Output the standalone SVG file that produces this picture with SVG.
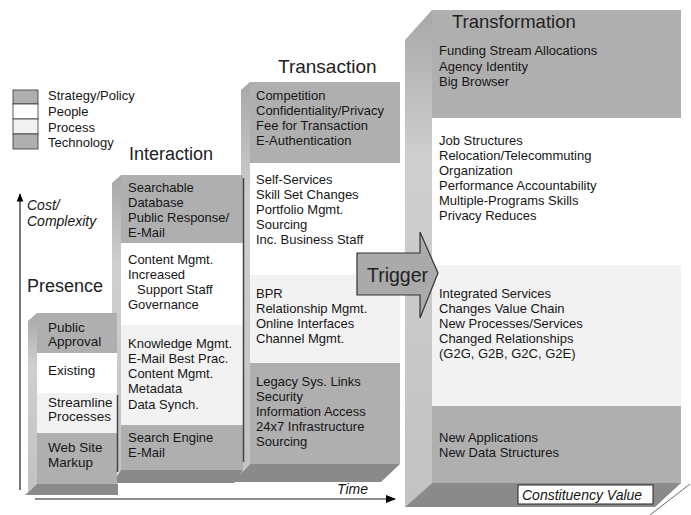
<svg xmlns="http://www.w3.org/2000/svg" width="691" height="515" viewBox="0 0 691 515">
<style>
.g{fill:#afafaf}
.w{fill:#ffffff}
.l{fill:#f2f2f2}
.bot{fill:#8a8a8a}
.t{font-family:"Liberation Sans",Arial,sans-serif;font-size:13px;fill:#161616}
.tp{font-family:"Liberation Sans",Arial,sans-serif;font-size:13.5px;fill:#161616}
.h{font-family:"Liberation Sans",Arial,sans-serif;fill:#222}
.it{font-family:"Liberation Sans",Arial,sans-serif;font-style:italic;font-size:14px;fill:#161616}
.edge{stroke:#444;stroke-width:1.5;fill:none}
</style>
<defs>
<linearGradient id="sideg" x1="0" y1="0" x2="0" y2="1">
<stop offset="0" stop-color="#a8a8a8"/>
<stop offset="0.3" stop-color="#cfcfcf"/>
<stop offset="1" stop-color="#c2c2c2"/>
</linearGradient>
<marker id="ah" viewBox="0 0 10 10" refX="9" refY="5" markerWidth="7" markerHeight="7" orient="auto">
<path d="M0,1 L10,5 L0,9 z" fill="#000"/>
</marker>
</defs>
<rect width="691" height="515" fill="#fff"/>

<g id="legend">
<rect x="13" y="90" width="25" height="14" class="g" stroke="#333" stroke-width="0.8"/>
<rect x="13" y="104" width="25" height="15" class="w" stroke="#333" stroke-width="0.8"/>
<rect x="13" y="119" width="25" height="15" class="l" stroke="#333" stroke-width="0.8"/>
<rect x="13" y="134" width="25" height="15" class="g" stroke="#333" stroke-width="0.8"/>
<text class="t" x="48" y="100">Strategy/Policy</text>
<text class="t" x="48" y="116">People</text>
<text class="t" x="48" y="132">Process</text>
<text class="t" x="48" y="147">Technology</text>
</g>

<g id="transformation">
<polygon points="405,40 432,10 432,483 405,507" fill="url(#sideg)"/>
<polygon points="432,483 681,483 655,507 405,507" class="bot"/>
<rect x="432" y="10" width="249" height="108" class="g"/>
<rect x="432" y="118" width="249" height="147" class="w"/>
<rect x="432" y="265" width="249" height="141" class="l"/>
<rect x="432" y="406" width="249" height="77" class="g"/>
<text class="h" x="452" y="28" font-size="18.5">Transformation</text>
<text class="t" x="439" y="55">Funding Stream Allocations</text>
<text class="t" x="439" y="71">Agency Identity</text>
<text class="t" x="439" y="86">Big Browser</text>
<text class="t" x="439" y="145">Job Structures</text>
<text class="t" x="439" y="160">Relocation/Telecommuting</text>
<text class="t" x="439" y="175">Organization</text>
<text class="t" x="439" y="190">Performance Accountability</text>
<text class="t" x="439" y="205">Multiple-Programs Skills</text>
<text class="t" x="439" y="220">Privacy Reduces</text>
<text class="t" x="439" y="298">Integrated Services</text>
<text class="t" x="439" y="313">Changes Value Chain</text>
<text class="t" x="439" y="328">New Processes/Services</text>
<text class="t" x="439" y="343">Changed Relationships</text>
<text class="t" x="439" y="358">(G2G, G2B, G2C, G2E)</text>
<text class="t" x="439" y="442">New Applications</text>
<text class="t" x="439" y="457">New Data Structures</text>
<rect x="518" y="485" width="135" height="19" fill="#fff" stroke="#222" stroke-width="1"/>
<text class="it" x="522" y="500">Constituency Value</text>
</g>

<g id="transaction">
<polygon points="241,90 250,82 250,464 241,472" fill="url(#sideg)"/>
<polygon points="250,464 400,464 381,482 232,482" class="bot"/>
<rect x="250" y="82" width="150" height="81" class="g"/>
<rect x="250" y="163" width="150" height="112" class="w"/>
<rect x="250" y="275" width="150" height="88" class="l"/>
<rect x="250" y="363" width="150" height="101" class="g"/>
<text class="h" x="278" y="73" font-size="19">Transaction</text>
<text class="t" x="256" y="100">Competition</text>
<text class="t" x="256" y="115">Confidentiality/Privacy</text>
<text class="t" x="256" y="130">Fee for Transaction</text>
<text class="t" x="256" y="145">E-Authentication</text>
<text class="t" x="256" y="184">Self-Services</text>
<text class="t" x="256" y="199">Skill Set Changes</text>
<text class="t" x="256" y="214">Portfolio Mgmt.</text>
<text class="t" x="256" y="229">Sourcing</text>
<text class="t" x="256" y="244">Inc. Business Staff</text>
<text class="t" x="256" y="298">BPR</text>
<text class="t" x="256" y="313">Relationship Mgmt.</text>
<text class="t" x="256" y="328">Online Interfaces</text>
<text class="t" x="256" y="343">Channel Mgmt.</text>
<text class="t" x="256" y="386">Legacy Sys. Links</text>
<text class="t" x="256" y="401">Security</text>
<text class="t" x="256" y="416">Information Access</text>
<text class="t" x="256" y="431">24x7 Infrastructure</text>
<text class="t" x="256" y="446">Sourcing</text>
</g>

<g id="interaction">
<polygon points="112,183 121,175 121,470 112,478" fill="url(#sideg)"/>
<polygon points="121,470 243,470 234,483 112,483" class="bot"/>
<rect x="121" y="175" width="122" height="68" class="g"/>
<rect x="121" y="243" width="122" height="82" class="w"/>
<rect x="121" y="325" width="122" height="100" class="l"/>
<rect x="121" y="425" width="122" height="45" class="g"/>
<line x1="243.5" y1="178" x2="243.5" y2="462" class="edge"/>
<text class="h" x="129" y="160" font-size="18">Interaction</text>
<text class="t" x="128" y="192">Searchable</text>
<text class="t" x="128" y="207">Database</text>
<text class="t" x="128" y="222">Public Response/</text>
<text class="t" x="128" y="237">E-Mail</text>
<text class="t" x="128" y="264">Content Mgmt.</text>
<text class="t" x="128" y="279">Increased</text>
<text class="t" x="137" y="294">Support Staff</text>
<text class="t" x="128" y="309">Governance</text>
<text class="t" x="128" y="348">Knowledge Mgmt.</text>
<text class="t" x="128" y="363">E-Mail Best Prac.</text>
<text class="t" x="128" y="378">Content Mgmt.</text>
<text class="t" x="128" y="393">Metadata</text>
<text class="t" x="128" y="409">Data Synch.</text>
<text class="t" x="128" y="442">Search Engine</text>
<text class="t" x="128" y="457">E-Mail</text>
</g>

<g id="presence">
<polygon points="28,321 37,313 37,484 28,492" fill="url(#sideg)"/>
<polygon points="37,484 118,484 118,495 25,495" class="bot"/>
<rect x="37" y="313" width="80" height="40" class="g"/>
<rect x="37" y="353" width="80" height="40" class="w"/>
<rect x="37" y="393" width="80" height="40" class="l"/>
<rect x="37" y="433" width="80" height="51" class="g"/>
<line x1="117.5" y1="395" x2="117.5" y2="472" class="edge"/>
<text class="h" x="27" y="292" font-size="18">Presence</text>
<text class="tp" x="48" y="332">Public</text>
<text class="tp" x="48" y="346">Approval</text>
<text class="tp" x="48" y="375">Existing</text>
<text class="tp" x="48" y="407">Streamline</text>
<text class="tp" x="48" y="421">Processes</text>
<text class="tp" x="48" y="452">Web Site</text>
<text class="tp" x="48" y="467">Markup</text>
</g>

<g id="trigger">
<polygon points="357,253 420,253 420,232 438,273 420,318 420,295 357,295" fill="#aaaaaa" stroke="#333" stroke-width="1.2"/>
<text class="h" x="367" y="282" font-size="19.5" fill="#111">Trigger</text>
</g>

<g id="connectors">
<line x1="20" y1="490" x2="20" y2="194" stroke="#222" stroke-width="1.2" marker-end="url(#ah)"/>
<line x1="35" y1="499" x2="395" y2="499" stroke="#666" stroke-width="1.5" marker-end="url(#ah)"/>
<line x1="650" y1="515" x2="690" y2="484" stroke="#444" stroke-width="0.8"/>
</g>
<text class="it" x="27" y="210" font-size="13">Cost/</text>
<text class="it" x="27" y="226" font-size="13">Complexity</text>
<text class="it" x="337" y="494">Time</text>
</svg>
